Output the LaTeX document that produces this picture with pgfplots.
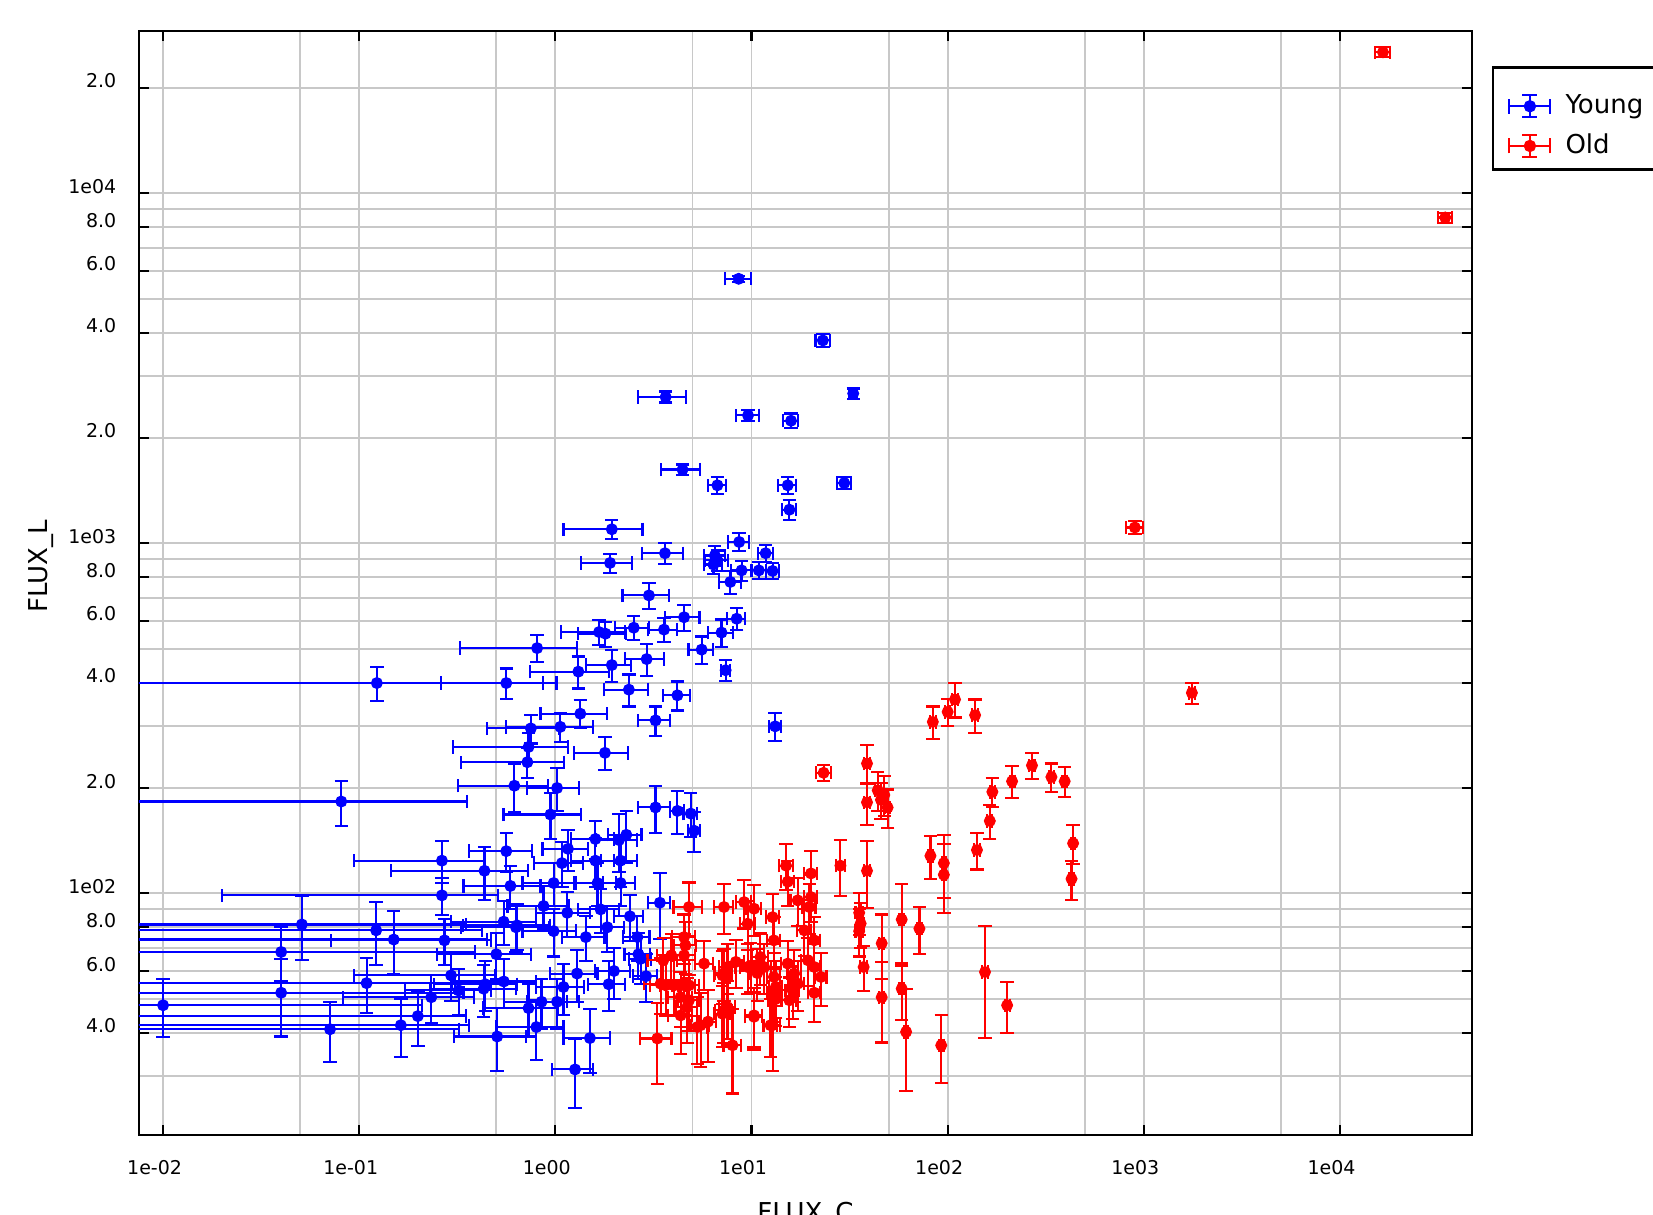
\documentclass[border=0pt]{standalone}
\usepackage{fontspec}
\setmainfont{DejaVu Sans}
\usepackage{pgfplots}
\pgfplotsset{compat=1.18}
\definecolor{gridgray}{RGB}{200,200,200}
\newcommand{\legendbars}[1]{%
  \draw[#1, line width=0.6pt] (0mm,0mm) -- (4.1mm,0mm);
  \draw[#1, line width=0.6pt] (0mm,-0.75mm) -- (0mm,0.75mm);
  \draw[#1, line width=0.6pt] (4.1mm,-0.75mm) -- (4.1mm,0.75mm);
  \draw[#1, line width=0.6pt] (2.05mm,-1.1mm) -- (2.05mm,1.1mm);
  \draw[#1, line width=0.6pt] (1.3mm,-1.1mm) -- (2.8mm,-1.1mm);
  \draw[#1, line width=0.6pt] (1.3mm,1.1mm) -- (2.8mm,1.1mm);
  \fill[#1] (2.05mm,0mm) circle (0.55mm);
}
\newcommand{\dec}[1]{#1\hspace{0.6mm}}
\begin{document}
\begin{tikzpicture}
\useasboundingbox (0,0) rectangle (165.3mm,121.5mm);
\clip (0,0) rectangle (165.3mm,121.5mm);
\begin{axis}[
    at={(13.9mm,8mm)}, anchor=south west,
    scale only axis, width=133.3mm, height=110.4mm,
    xmode=log, ymode=log,
    xmin=0.00754, xmax=47100, ymin=20.4, ymax=29100,
    xtick={0.01,0.1,1,10,100,1000,10000},
    xticklabels={1e-02,1e-01,1e00,1e01,1e02,1e03,1e04},
    minor xtick={0.05,0.5,5,50,500,5000},
    ytick={40,60,80,100,200,400,600,800,1000,2000,4000,6000,8000,10000,20000},
    yticklabels={4.0,6.0,8.0,\dec{1e02},2.0,4.0,6.0,8.0,\dec{1e03},2.0,4.0,6.0,8.0,\dec{1e04},2.0},
    minor ytick={30,50,70,90,300,500,700,900,3000,5000,7000,9000},
    grid=both,
    major grid style={draw=gridgray, line width=0.55pt},
    minor grid style={draw=gridgray, line width=0.55pt},
    tick align=inside, major tick length=1mm, minor tick length=0pt,
    tick style={black, line width=0.6pt},
    axis line style={black, line width=0.7pt},
    xticklabel style={font=\fontsize{5.4}{6}\selectfont, anchor=north, inner sep=0pt, yshift=-2.5mm, xshift=-0.85mm},
    yticklabel style={font=\fontsize{5.4}{6}\selectfont, anchor=base east, inner sep=0pt, xshift=-2.2mm},
    xlabel={FLUX\_C}, ylabel={FLUX\_L},
    xlabel style={at={(axis description cs:0.5,0)}, anchor=north, inner sep=0pt, yshift=-6.7mm, font=\fontsize{7.4}{9}\selectfont},
    ylabel style={at={(axis description cs:-0.069,0.515)}, anchor=base, inner sep=0pt, font=\fontsize{7.4}{9}\selectfont},
    legend style={at={(axis description cs:1.0155,0.962)}, anchor=north west, draw=none, fill=none,
        font=\fontsize{7.4}{9}\selectfont, inner xsep=1.5mm, inner ysep=1.35mm, row sep=0.1mm, column sep=0.7mm,
        cells={anchor=west}},
]
% Young
\addplot[only marks, mark=*, mark size=1.5pt, color=blue,
    legend image code/.code={\legendbars{blue}},
    error bars/.cd, x dir=both, x explicit, y dir=both, y explicit,
    error bar style={line width=0.6pt, blue},
    error mark options={rotate=90, blue, mark size=1.9pt, line width=0.6pt}]
  table[x=x, y=y, x error plus=xp, x error minus=xm, y error=ey] {
x y xp xm ey
8.6 5700 1.3 1.3 110
23.1 3800 1.9 1.9 170
33.0 2680 1.5 1.5 90
3.65 2620 1.0 1.0 95
9.6 2320 1.3 1.3 80
15.9 2240 1.4 1.4 110
4.45 1625 1.0 1.0 55
6.7 1465 0.7 0.7 85
15.3 1465 1.6 1.6 80
29.7 1487 2.3 2.3 60
15.6 1248 1.3 1.3 85
1.94 1097 0.84 0.84 70
8.65 1009 1.1 1.1 60
3.62 937 0.85 0.85 65
6.5 923 0.8 0.8 60
6.7 894 0.9 0.9 60
6.4 870 0.7 0.7 55
11.8 937 1.0 1.0 55
1.90 879 0.55 0.55 55
8.9 837 1.0 1.0 55
10.9 837 0.9 0.9 45
12.8 834 1.0 1.0 45
7.8 776 1.0 1.0 60
3.0 710 0.8 0.8 60
4.53 615 0.9 0.9 52
8.4 609 0.9 0.9 45
2.51 574 0.5 0.5 45
3.58 567 0.6 0.6 45
1.67 558 0.6 0.6 45
1.80 552 0.5 0.5 45
7.03 556 1.0 1.0 50
5.57 497 0.8 0.8 45
0.807 502 0.48 0.48 45
7.38 434 0.4 0.4 30
2.92 467 0.65 0.65 50
1.94 449 0.5 0.5 48
1.31 430 0.57 0.57 45
0.123 399 0.89 0.1225 45
0.562 399 0.3 0.3 40
1.34 326 0.5 0.5 30
1.06 299 0.5 0.5 28
0.75 296 0.3 0.3 28
3.24 312 0.6 0.6 30
4.19 368 0.65 0.65 35
2.37 382 0.6 0.6 40
0.73 262 0.43 0.43 25
0.72 237 0.39 0.39 24
1.79 252 0.55 0.55 27
0.618 203 0.3 0.3 32
1.02 200 0.3 0.3 28
0.944 168 0.4 0.4 25
3.24 176 0.6 0.6 27
4.19 172 0.35 0.35 24
4.9 169 0.4 0.4 24
5.1 151 0.35 0.35 20
2.11 142 0.5 0.5 27
2.3 147 0.45 0.45 25
0.562 132 0.2 0.2 17
1.16 134 0.3 0.3 18
1.6 143 0.4 0.4 18
1.6 124 0.4 0.4 20
2.15 124 0.45 0.45 20
1.08 122 0.3 0.3 18
0.435 116 0.29 0.29 20
0.59 105 0.25 0.25 15
0.98 107 0.3 0.3 15
2.15 107 0.4 0.4 15
1.64 107 0.4 0.4 15
3.41 94 0.45 0.45 20
0.87 92 0.3 0.3 13
1.7 90 0.4 0.4 13
0.63 80 0.3 0.3 12
0.98 78 0.3 0.3 12
1.84 80 0.4 0.4 12
1.43 75 0.35 0.35 11
2.62 75 0.4 0.4 11
2.65 67 0.4 0.4 10
2.72 65 0.35 0.35 10
0.50 67 0.25 0.25 10
0.44 55 0.2 0.2 9
0.546 56 0.25 0.25 9
1.29 59 0.35 0.35 10
1.99 60 0.4 0.4 10
1.87 55 0.4 0.4 9
0.73 47 0.3 0.3 8
0.85 49 0.3 0.3 8
1.02 49 0.3 0.3 8
0.80 41.5 0.3 0.3 8
0.505 39 0.2 0.2 8
1.50 38.6 0.4 0.4 8
1.26 31.4 0.3 0.3 7
0.01 47.9 0.2 0.0099 9
0.040 68 0.35 0.0395 12
0.040 52 0.3 0.0395 13
0.051 81.5 0.3 0.0505 17
0.264 98.7 0.244 0.244 12
0.122 78.4 0.3 0.1215 16
0.15 73.8 0.3 0.1495 15
0.109 55.4 0.2 0.1085 10
0.071 40.9 0.25 0.0705 8
0.163 42 0.2 0.1625 8
0.199 44.6 0.15 0.1985 8
0.233 50.5 0.15 0.15 8
0.272 73.4 0.2 0.2 11
0.264 124 0.17 0.17 17
0.294 58.3 0.2 0.2 9
0.321 52.8 0.15 0.15 8
0.431 53.4 0.2 0.2 9
0.545 83 0.25 0.25 12
0.638 81 0.3 0.3 12
13.2 300 0.9 0.9 27
0.081 183 0.274 0.0805 27
1.15 88 0.35 0.35 13
2.4 86 0.4 0.4 13
2.9 58 0.4 0.4 9
1.1 54 0.3 0.3 9
};
\addlegendentry{Young}
% Old
\addplot[only marks, mark=*, mark size=1.5pt, color=red,
    legend image code/.code={\legendbars{red}},
    error bars/.cd, x dir=both, x explicit, y dir=both, y explicit,
    error bar style={line width=0.6pt, red},
    error mark options={rotate=90, red, mark size=1.9pt, line width=0.6pt}]
  table[x=x, y=y, x error=ex, y error=ey] {
x y ex ey
16560 25300 1400 830
34400 8530 2900 280
900 1110 90 45
1758 374 60 26
23.3 221 2.0 12
38.8 235 1.5 30
38.8 182 1.5 25
44 197 1.5 25
47.5 191 1.5 25
49.4 176 1.5 22
45.7 185 1.5 22
28.4 120 1.5 22
38.8 116 1.5 25
35.4 88 1.5 12
36 82 1.5 12
35.4 78 1.5 12
37.3 61.6 1.5 9
46.1 72 1.5 15
46.1 50.5 1.5 13
58.3 84.2 1.5 22
58.3 53.4 1.5 10
61.4 40.2 1.5 13
71.8 79.3 2 12
84 309 3 33
100 330 3 30
81.7 128 2.5 18
95.6 122 2.5 25
95.6 113 2.5 25
92.7 36.8 2.5 8
109 358 4 40
138 323 5 35
169 195 5 19
164 161 5 18
141 133 5 16
213 209 6 22
269 232 8 20
338 215 10 20
395 209 10 20
436 139 10 18
428 110 10 14
155 59.6 6 21
201 47.9 6 8
4.8 91.4 0.8 16
3.31 38.5 0.6 10
8.0 36.8 0.8 10
12.8 42 1.2 11
10.3 44.8 1.0 9
7.24 46.3 0.7 9
5.5 42 0.6 10
6.0 43 0.6 10
4.35 44.8 0.6 10
4.7 47.3 0.6 10
3.65 54.6 0.6 10
4.03 54.6 0.6 10
4.53 54.6 0.6 10
4.8 54.6 0.6 10
3.55 64.4 0.6 10
3.9 66.5 0.6 10
4.53 66.5 0.6 10
4.53 75 0.6 12
4.6 71 0.6 12
5.73 63 0.6 10
7.11 58.3 0.7 10
7.54 61.6 0.7 10
8.32 63.7 0.8 10
9.17 94.4 0.8 15
10.3 90.4 0.9 15
9.55 81.9 0.8 13
9.55 61.6 0.8 10
12.8 85.5 1.0 14
13.0 73.4 1.0 12
11.1 65.8 1.0 11
13.0 57.7 1.0 10
13.3 54 1.0 10
15.0 120 1.2 18
15.3 108 1.2 16
20.1 114 1.5 18
20.1 97.6 1.5 15
17.2 95.5 1.4 15
19.7 91.4 1.5 15
18.6 78.4 1.5 12
20.9 73.4 1.5 12
15.3 63 1.2 10
16.5 59 1.3 10
17.2 55.2 1.3 9
19.4 64.4 1.5 10
20.9 61.6 1.5 10
22.6 57.7 1.5 10
16.2 52.8 1.3 9
20.9 52 1.5 9
15.6 49.5 1.3 8
13.0 52 1.0 9
13.2 49.8 1.0 8
7.24 91.4 0.8 15
3.44 55.2 0.6 10
4.35 50.5 0.6 9
4.8 49.5 0.6 9
5.3 41.5 0.6 9
7.11 45.3 0.7 9
7.54 47.3 0.7 9
7.24 59.2 0.7 10
9.9 62.1 0.9 10
10.7 59.2 0.9 10
11.6 61.6 1.0 10
10.3 44.4 1.0 8
12.5 42 1.0 8
};
\addlegendentry{Old}
\end{axis}
% legend frame, running past the right edge as in the reference
\draw[black, line width=0.7pt] (149.28mm,114.75mm) rectangle (172mm,104.53mm);
\end{tikzpicture}
\end{document}
